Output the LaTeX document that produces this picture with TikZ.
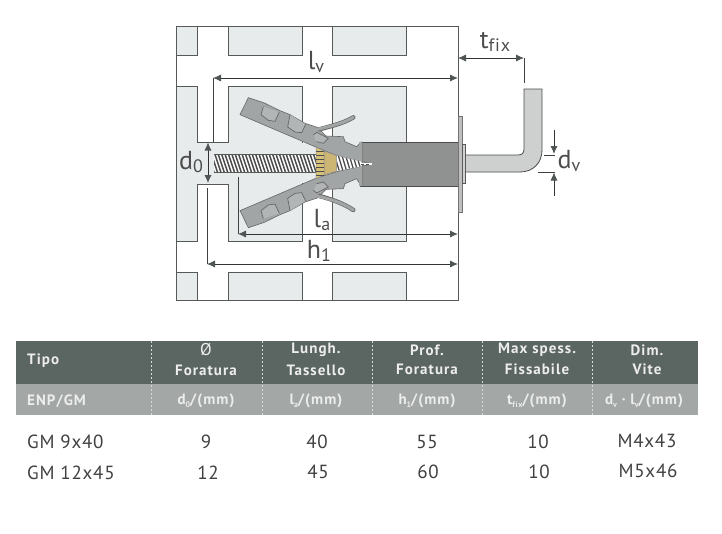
\documentclass[tikz,border=0pt]{standalone}
\usepackage{fontspec}
\setmainfont{PT Sans}
\usetikzlibrary{arrows.meta}
\definecolor{wall}{HTML}{E8EBEB}
\definecolor{edge}{HTML}{555958}
\definecolor{leg}{HTML}{A2A5A5}
\definecolor{pocket}{HTML}{B2B5B5}
\definecolor{bodyc}{HTML}{8F9291}
\definecolor{hdr}{HTML}{5B6562}
\definecolor{sub}{HTML}{A3A8A6}
\definecolor{hook}{HTML}{CDD0CE}
\definecolor{ribs}{HTML}{D8C27A}
\definecolor{tan}{HTML}{CDB574}
\definecolor{tip}{HTML}{4F5554}
\newcommand\lab[2]{\fontsize{26}{26}\selectfont #1\raisebox{-3pt}{\fontsize{18}{18}\selectfont #2}}
\newcommand\subs[1]{\raisebox{-3pt}{\fontsize{8}{8}\selectfont #1}}
\newfontfamily\hdrfont[LetterSpace=7,Ligatures=NoCommon]{PT Sans Bold}
\newfontfamily\wideres[LetterSpace=5,Ligatures=NoCommon]{PT Sans}
\newfontfamily\plainres{PT Sans}
\tikzset{
  x=1pt,y=-1pt,
  block/.style={fill=wall,draw=edge,line width=.9pt},
  dim/.style={draw=black!80,line width=.8pt},
  both/.style={dim,{Latex[length=8pt,width=7pt,color=tip]}-{Latex[length=8pt,width=7pt,color=tip]}},
  lone/.style={dim,-{Latex[length=8pt,width=7pt,color=tip]}},
  leader/.style={draw=black!75,line width=.8pt},
  dimlabel/.style={text=black!70,inner sep=0pt},
  head/.style={text=white!93!black,inner sep=0pt,font=\hdrfont\fontsize{15}{15}\selectfont},
  data/.style={text=black!75,inner sep=0pt,font=\addfontfeatures{LetterSpace=4}\fontsize{19}{19}\selectfont},
}
\begin{document}
\begin{tikzpicture}
\useasboundingbox (0,0) rectangle (722,533);
% wall
\draw[edge,line width=1pt] (176,26) rectangle (458,300);
\foreach \a/\b in {176/197,228/302,332/406}{
  \filldraw[block] (\a,26) rectangle (\b,55);
  \filldraw[block] (\a,272) rectangle (\b,300);
}
\filldraw[block] (176,86)--(197,86)--(197,142)--(228,142)--(228,86)--(302,86)--(302,241)--(228,241)--(228,184)--(197,184)--(197,241)--(176,241)--cycle;
\filldraw[block] (332,86) rectangle (406,241);
\fill[wall] (298,143) rectangle (322,183);
\draw[edge,line width=1pt] (176,26) rectangle (458,300);
% screw shank
\begin{scope}
\clip (214,154) rectangle (316,172);
\fill[white] (214,154) rectangle (316,172);
\foreach \i in {0,3.4,...,110}{\draw[black!70,line width=1.5pt] (208+\i,154)--(214+\i,172);}
\end{scope}
\draw[edge,line width=.7pt] (214,154)--(316,154) (214,172)--(316,172);
% body, plate, hook
\filldraw[draw=black!70,line width=.8pt,fill=hook] (465,155)--(518,155) .. controls (522,155) and (524,153) .. (524,149)--(524,89)--(542,89)--(542,150) .. controls (542,163) and (533,172) .. (520,172)--(465,172)--cycle;
\fill[bodyc] (360,142) rectangle (458,186);
\draw[black!70,line width=.8pt] (360,142)--(458,142) (360,186)--(458,186);
\filldraw[fill=black!25,draw=black!55,line width=.6pt] (458,116) rectangle (462,212);
\filldraw[fill=black!18,draw=black!65,line width=.7pt] (462,144) rectangle (465,183);
% anchor, in the coordinates of a 3x crop
\begin{scope}[shift={(230,90)},x=.33333pt,y=-.33333pt]
\filldraw[fill=leg,draw=black!60,line width=.6pt] (30,74)--(55,23)--(103,39)--(150,62)--(180,74)--(225,100)--(262,112)--(288,138)--(340,140)--(345,155)--(380,170)--(393,156)--(396,156)--(396,288)--(393,288)--(380,266)--(345,281)--(340,296)--(288,298)--(262,324)--(225,336)--(180,362)--(150,374)--(103,397)--(55,413)--(30,362)--(255,266)--(320,245)--(425,222)--(320,197)--(255,170)--cycle;
\fill[leg] (388,157) rectangle (397,287);
\foreach \p in {{(100,50)--(93,74)--(115,91)--(135,94)--(148,66)},{(180,74)--(173,111)--(195,126)--(215,128)--(227,103)},{(250,135)--(260,127)--(295,145)--(280,160)--(260,155)},
  {(100,386)--(93,362)--(115,345)--(135,342)--(148,370)},{(180,362)--(173,325)--(195,310)--(215,308)--(227,333)},{(250,301)--(260,309)--(295,291)--(280,276)--(260,281)}}{
  \filldraw[fill=pocket,draw=black!60,line width=.7pt] \p;
}
\draw[black!60,line width=4.4pt,line cap=round] (268,118) .. controls (305,108) and (340,100) .. (370,82);
\draw[leg,line width=3pt,line cap=round] (262,118) .. controls (305,108) and (340,100) .. (370,82);
\draw[black!60,line width=4.4pt,line cap=round] (268,318) .. controls (305,328) and (340,340) .. (370,360);
\draw[leg,line width=3pt,line cap=round] (262,318) .. controls (305,328) and (340,340) .. (370,360);
% cone
\begin{scope}
\clip (320,197)--(395,215)--(395,229)--(320,243)--cycle;
\fill[white] (320,190) rectangle (400,250);
\foreach \i in {0,11,...,88}{\draw[black!70,line width=1.3pt] (312+\i,190)--(330+\i,250);}
\end{scope}
\fill[white] (393,218) rectangle (425,226);
\draw[black!70,line width=.8pt,dash pattern=on 3pt off 2pt] (393,222)--(422,222);
\filldraw[fill=tan,draw=black!45,line width=.5pt] (282,183)--(320,197)--(320,243)--(282,255)--cycle;
\filldraw[fill=ribs,draw=black!45,line width=.5pt] (258,171)--(282,183)--(282,255)--(258,267)--cycle;
\foreach \y in {183,195,...,255}{\draw[black!70,line width=.7pt] (258,\y)--(282,\y);}
\end{scope}
% dimensions
\coordinate (wallright) at (458,0);
\coordinate (lvleft) at (213,78);
\coordinate (lvfoot) at (213,142);
\coordinate (laleft) at (238,234);
\coordinate (lafoot) at (238,177);
\coordinate (hleft) at (207,264);
\coordinate (hfoot) at (207,188);
\coordinate (tr) at (524,58);
\coordinate (trfoot) at (524,83);
\draw[leader] (lvleft)--(lvfoot) (laleft)--(lafoot) (hleft)--(hfoot) (tr)--(trfoot);
\draw[both] (lvleft)--(lvleft-|wallright);
\draw[both] (laleft)--(laleft-|wallright);
\draw[both] (hleft)--(hleft-|wallright);
\draw[both] (tr-|wallright)--(tr);
\coordinate (dtop) at (208,142.5);
\coordinate (dbot) at (208,183);
\draw[both] (dtop)--(dbot);
\coordinate (vtopa) at (554,130);
\coordinate (vtopb) at (554,154);
\coordinate (vbota) at (554,196);
\coordinate (vbotb) at (554,172.5);
\draw[lone] (vtopa)--(vtopb);
\draw[lone] (vbota)--(vbotb);
\draw[leader] (544,155)--(555,155) (538,172)--(555,172);
\node[dimlabel] (lv) at (316,62) {\lab{l}{v}};
\node[dimlabel] (d0) at (191,162) {\lab{d}{0}};
\node[dimlabel] (la) at (322,220) {\lab{l}{a}};
\node[dimlabel] (h1) at (319,251) {\lab{h}{1}};
\node[dimlabel] (tfix) at (495,42) {\lab{t}{\wideres fix}};
\node[dimlabel] (dv) at (569,161) {\lab{d}{v}};
% table
\fill[hdr] (16,341) rectangle (698,384);
\fill[sub] (16,384) rectangle (698,415);
\foreach \x in {151,262,372,482,592}{\draw[white!85!black,line width=1pt,dash pattern=on 2pt off 2pt] (\x,341)--(\x,415);}
\node[head,anchor=west] (t1) at (27,361) {Tipo};
\node[head] (t2a) at (206,350) {\plainres\fontsize{17}{17}\selectfont Ø};
\node[head] (t2b) at (206,370) {Foratura};
\node[head] (t3a) at (316,350) {Lungh.};
\node[head] (t3b) at (316,370) {Tassello};
\node[head] (t4a) at (427,350) {Prof.};
\node[head] (t4b) at (427,369.5) {Foratura};
\node[head] (t5a) at (537,350) {Max spess.};
\node[head] (t5b) at (537,369.5) {Fissabile};
\node[head] (t6a) at (647,350) {Dim.};
\node[head] (t6b) at (647,369.5) {Vite};
\node[head,anchor=west] (s1) at (27,401) {ENP/GM};
\node[head] (s2) at (206,401) {d\subs{0}/(mm)};
\node[head] (s3) at (316,401) {l\subs{a}/(mm)};
\node[head] (s4) at (427,401) {h\subs{1}/(mm)};
\node[head] (s5) at (537,401) {t\subs{fix}/(mm)};
\node[head] (s6) at (644,401) {d\subs{v} · l\subs{v}/(mm)};
\node[data,anchor=west] (r1a) at (27,442) {GM 9x40};
\node[data] (r1b) at (206,442) {9};
\node[data] (r1c) at (317,442) {40};
\node[data] (r1d) at (427,441.5) {55};
\node[data] (r1e) at (538,441.5) {10};
\node[data] (r1f) at (647,441) {M4x43};
\node[data,anchor=west] (r2a) at (27,473) {GM 12x45};
\node[data] (r2b) at (208,472.5) {12};
\node[data] (r2c) at (318,472) {45};
\node[data] (r2d) at (428,472) {60};
\node[data] (r2e) at (539,472) {10};
\node[data] (r2f) at (648,471) {M5x46};
\end{tikzpicture}
\end{document}
